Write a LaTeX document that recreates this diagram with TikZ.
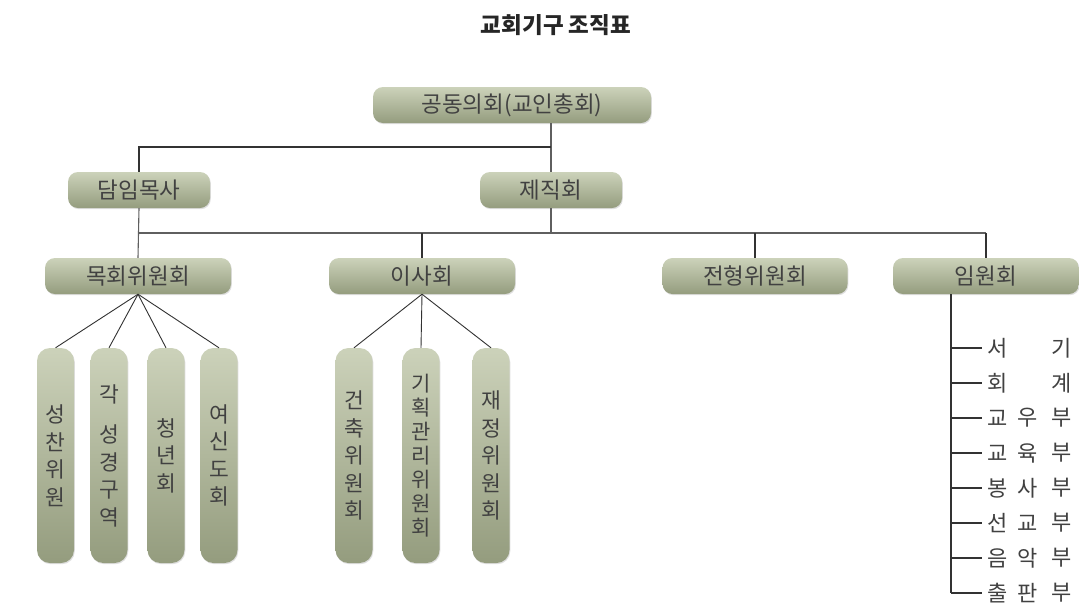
\documentclass[tikz,border=0pt]{standalone}
\usepackage{fontspec}
\setmainfont{Noto Sans CJK KR}
\usetikzlibrary{shadows}
\definecolor{boxtop}{RGB}{204,210,186}
\definecolor{boxbot}{RGB}{148,156,126}
\definecolor{txt}{RGB}{65,65,65}
\definecolor{ln}{RGB}{95,95,95}
\definecolor{lndark}{RGB}{50,50,50}
\tikzset{
  pillbase/.style={rounded corners=10pt, top color=boxtop, bottom color=boxbot, draw=none,
    text=txt, inner sep=0pt,
    drop shadow={opacity=0.25, shadow xshift=0.8pt, shadow yshift=-1.2pt}},
  hbox/.style={pillbase, minimum height=36pt, font=\fontsize{22.5}{26}\selectfont},
  vbox/.style={pillbase, rounded corners=13pt, minimum width=37pt, minimum height=215pt,
    align=center, font=\fontsize{21.5}{27.5}\selectfont},
  conn/.style={draw=ln, line width=1.1pt},
  fan/.style={draw=lndark, line width=0.9pt},
  listline/.style={draw=lndark, line width=1.1pt},
  item/.style={text=txt, font=\fontsize{22}{25}\selectfont, inner sep=0pt, anchor=center},
  titletext/.style={text=black!85, font=\fontsize{22.5}{26}\selectfont\bfseries, inner sep=0pt}
}
\begin{document}
\begin{tikzpicture}[x=1pt,y=-1pt]
\useasboundingbox (0,0) rectangle (1079,606);
\fill[white] (0,0) rectangle (1079,606);

\node[titletext] (title) at (556,25) {교회기구 조직표};

% top level
\node[hbox, minimum width=278pt] (gd) at (512,105) {공동의회(교인총회)};
\node[hbox, minimum width=142pt] (dam) at (139,190) {담임목사};
\node[hbox, minimum width=142pt] (je) at (551,190) {제직회};

% second level
\node[hbox, minimum width=186pt] (mok) at (138,276) {목회위원회};
\node[hbox, minimum width=186pt] (isa) at (422,276) {이사회};
\node[hbox, minimum width=185pt] (jeon) at (755,276) {전형위원회};
\node[hbox, minimum width=186pt] (imw) at (986,276) {임원회};

% bus coordinates
\coordinate (bus1) at (0,147);
\coordinate (bus2) at (0,233);

\draw[conn] (gd.south -| je.north) -- (je.north);
\draw[conn, draw=lndark] (dam.north) -- (dam.north |- bus1) -- (je.north |- bus1);
\draw[conn] (dam.south) -- (mok.north);
\draw[conn] (dam.south |- bus2) -- (imw.north |- bus2);
\draw[conn] (je.south) -- (je.south |- bus2);
\draw[conn, draw=lndark] (isa.north |- bus2) -- (isa.north);
\draw[conn, draw=lndark] (jeon.north |- bus2) -- (jeon.north);
\draw[conn, draw=lndark] (imw.north |- bus2) -- (imw.north);

% 목회위원회 children
\node[vbox] (c1) at (55.5,455.5) {성\\찬\\위\\원};
\node[vbox] (c2) at (109,455.5) {각\\[13pt]성\\경\\구\\역};
\node[vbox] (c3) at (166,455.5) {청\\년\\회};
\node[vbox] (c4) at (219,455.5) {여\\신\\도\\회};
\foreach \c in {c1,c2,c3,c4} \draw[fan] (mok.south) -- (\c.north);

% 이사회 children
\node[vbox] (d1) at (354,455.5) {건\\축\\위\\원\\회};
\node[vbox, font=\fontsize{21}{24}\selectfont] (d2) at (421,455.5) {기\\획\\관\\리\\위\\원\\회};
\node[vbox] (d3) at (491,455.5) {재\\정\\위\\원\\회};
\foreach \c in {d1,d2,d3} \draw[fan] (isa.south) -- (\c.north);

% 임원회 list
\coordinate (rtop) at (951,294);
\coordinate (rbot) at (951,593);
\draw[listline] (rtop) -- (rbot);
\foreach \i/\y/\a/\b/\c in {1/348/서//기, 2/383/회//계, 3/418/교/우/부, 4/453/교/육/부,
  5/488/봉/사/부, 6/523/선/교/부, 7/558/음/악/부, 8/593/출/판/부} {
  \coordinate (t\i) at (951,\y);
  \coordinate (e\i) at (982,\y);
  \draw[listline] (t\i) -- (e\i);
  \node[item] (ia\i) at (998,\y) {\a};
  \node[item] (ib\i) at (1028,\y) {\b};
  \node[item] (ic\i) at (1062,\y) {\c};
}
\end{tikzpicture}
\end{document}
